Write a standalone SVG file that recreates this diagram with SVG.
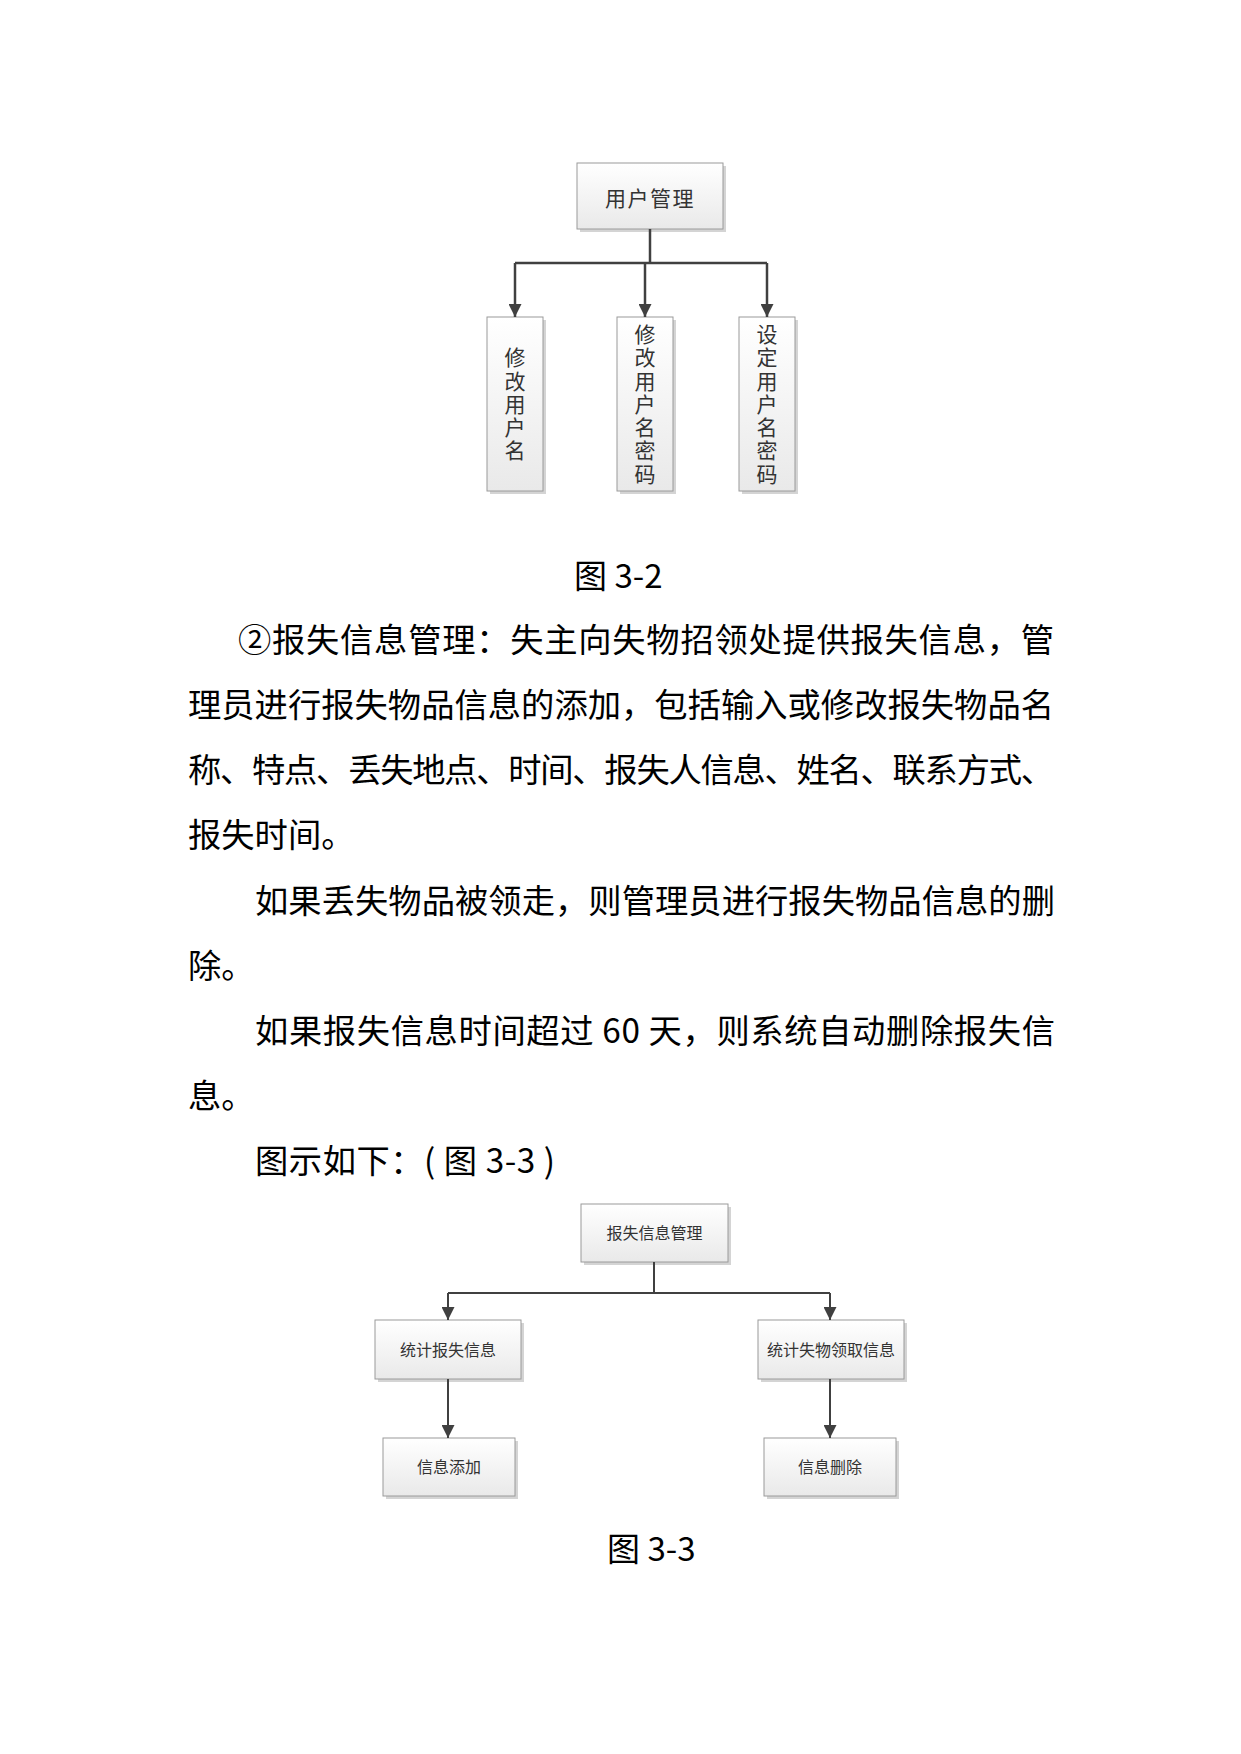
<svg xmlns="http://www.w3.org/2000/svg" width="1241" height="1754" viewBox="0 0 1241 1754">
<style>
.body{font-family:"Noto Sans CJK SC","Noto Sans",sans-serif;font-size:33.3px;fill:#000}
.cap{font-family:"Noto Sans CJK SC","Noto Sans",sans-serif;font-size:33px;fill:#000}
.box{fill:url(#g);stroke:#9a9a9a;stroke-width:1}
.shadow{fill:#d4d4d4}
.lbl{font-family:"Noto Sans CJK SC",sans-serif;fill:#333;text-anchor:middle}
.vert{writing-mode:vertical-rl;letter-spacing:2.3px}
.l21{font-size:21px}
.l16{font-size:16px}
.conn{fill:none;stroke:#404040;stroke-width:2.5}
.conn2{fill:none;stroke:#404040;stroke-width:2}
</style>
<defs>
<linearGradient id="g" x1="0" y1="0" x2="0" y2="1">
<stop offset="0" stop-color="#ffffff"/>
<stop offset="1" stop-color="#e9e9e9"/>
</linearGradient>
<marker id="ah" viewBox="0 0 10 10" refX="10" refY="5" markerWidth="13" markerHeight="13" markerUnits="userSpaceOnUse" orient="auto">
<path d="M0,0 L10,5 L0,10 z" fill="#404040"/>
</marker>
</defs>

<!-- Figure 3-2 -->
<g id="n-usermgmt">
<rect class="shadow" x="580" y="166" width="146" height="66"/>
<rect class="box" x="577" y="163" width="146" height="66"/>
<text class="lbl l21" x="650" y="206" letter-spacing="1.5">用户管理</text>
</g>
<g id="n-modname">
<rect class="shadow" x="490" y="320" width="56" height="174"/>
<rect class="box" x="487" y="317" width="56" height="174"/>
<text class="lbl l21 vert" x="515" y="405">修改用户名</text>
</g>
<g id="n-modpwd">
<rect class="shadow" x="620" y="320" width="56" height="174"/>
<rect class="box" x="617" y="317" width="56" height="174"/>
<text class="lbl l21 vert" x="645" y="405">修改用户名密码</text>
</g>
<g id="n-setpwd">
<rect class="shadow" x="742" y="320" width="56" height="174"/>
<rect class="box" x="739" y="317" width="56" height="174"/>
<text class="lbl l21 vert" x="767" y="405">设定用户名密码</text>
</g>

<!-- Figure 3-3 -->
<g id="n-lostmgmt">
<rect class="shadow" x="584" y="1207" width="147" height="58"/>
<rect class="box" x="581" y="1204" width="147" height="58"/>
<text class="lbl l16" x="654.5" y="1239">报失信息管理</text>
</g>
<g id="n-statlost">
<rect class="shadow" x="378" y="1323" width="146" height="59"/>
<rect class="box" x="375" y="1320" width="146" height="59"/>
<text class="lbl l16" x="448" y="1356">统计报失信息</text>
</g>
<g id="n-statclaim">
<rect class="shadow" x="761" y="1323" width="146" height="59"/>
<rect class="box" x="758" y="1320" width="146" height="59"/>
<text class="lbl l16" x="831" y="1356">统计失物领取信息</text>
</g>
<g id="n-add">
<rect class="shadow" x="386" y="1441" width="132" height="58"/>
<rect class="box" x="383" y="1438" width="132" height="58"/>
<text class="lbl l16" x="449" y="1473">信息添加</text>
</g>
<g id="n-del">
<rect class="shadow" x="767" y="1441" width="132" height="58"/>
<rect class="box" x="764" y="1438" width="132" height="58"/>
<text class="lbl l16" x="830" y="1473">信息删除</text>
</g>

<g id="connectors">
<path class="conn" d="M650,229 V263"/>
<path class="conn" d="M515,263 H767"/>
<path class="conn" d="M515,263 V317" marker-end="url(#ah)"/>
<path class="conn" d="M645,263 V317" marker-end="url(#ah)"/>
<path class="conn" d="M767,263 V317" marker-end="url(#ah)"/>
<path class="conn2" d="M654,1262 V1293"/>
<path class="conn2" d="M448,1293 H830"/>
<path class="conn2" d="M448,1293 V1320" marker-end="url(#ah)"/>
<path class="conn2" d="M830,1293 V1320" marker-end="url(#ah)"/>
<path class="conn2" d="M448,1379 V1438" marker-end="url(#ah)"/>
<path class="conn2" d="M830,1379 V1438" marker-end="url(#ah)"/>
</g>

<!-- Captions and body text -->
<text class="cap" x="574" y="588">图 3-2</text>
<text class="body" x="238" y="652" textLength="816" lengthAdjust="spacing">②报失信息管理：失主向失物招领处提供报失信息，管</text>
<text class="body" x="188" y="717" textLength="866" lengthAdjust="spacing">理员进行报失物品信息的添加，包括输入或修改报失物品名</text>
<text class="body" x="188" y="782" textLength="866" lengthAdjust="spacing">称、特点、丢失地点、时间、报失人信息、姓名、联系方式、</text>
<text class="body" x="188" y="847">报失时间。</text>
<text class="body" x="255" y="912.5" textLength="800" lengthAdjust="spacing">如果丢失物品被领走，则管理员进行报失物品信息的删</text>
<text class="body" x="188" y="977.5">除。</text>
<text class="body" x="255" y="1042.5" textLength="800" lengthAdjust="spacing">如果报失信息时间超过 60 天，则系统自动删除报失信</text>
<text class="body" x="188" y="1108">息。</text>
<text class="body" x="255" y="1173" textLength="300" lengthAdjust="spacing">图示如下：( 图 3-3 )</text>
<text class="cap" x="607" y="1561">图 3-3</text>
</svg>
